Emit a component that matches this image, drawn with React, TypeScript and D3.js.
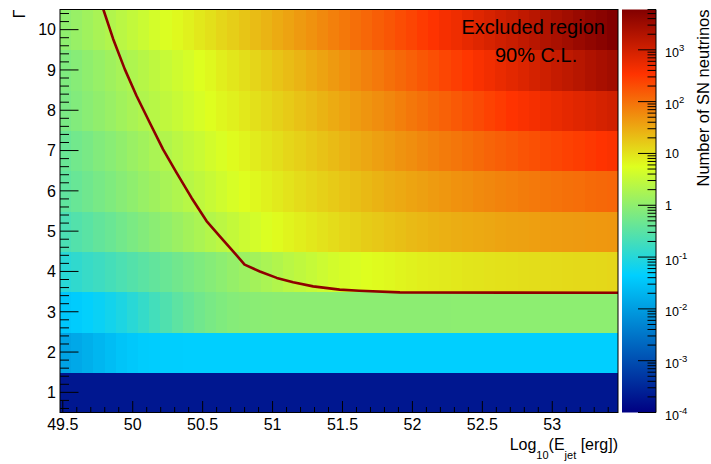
import React from 'react';
import * as d3 from 'd3';

const W = 711;
const H = 464;

// ---- axis ticks ----
const xTickLabels = [49.5, 50, 50.5, 51, 51.5, 52, 52.5, 53];
const yTickLabels = [1, 2, 3, 4, 5, 6, 7, 8, 9, 10];
const zTickExps = [-4, -3, -2, -1, 0, 1, 2, 3];

// ---- histogram binning ----
const gammaRows = [1, 2, 3, 4, 5, 6, 7, 8, 9, 10];
const eMin = 49.48;
const eMax = 53.47;
const nBins = 50;
const zMin = 1e-4;
const zMax = 6000;

// ---- log10(number of SN neutrinos) per Gamma row, 50 energy bins ----
const logN_G1 = [
  -3.7, -3.7, -3.7, -3.7, -3.7, -3.7, -3.7, -3.7, -3.7, -3.7,
  -3.7, -3.7, -3.7, -3.7, -3.7, -3.7, -3.7, -3.7, -3.7, -3.7,
  -3.7, -3.7, -3.7, -3.7, -3.7, -3.7, -3.7, -3.7, -3.7, -3.7,
  -3.7, -3.7, -3.7, -3.7, -3.7, -3.7, -3.7, -3.7, -3.7, -3.7,
  -3.7, -3.7, -3.7, -3.7, -3.7, -3.7, -3.7, -3.7, -3.7, -3.7,
];
const logN_G2 = [
  -1.92, -1.85, -1.77, -1.68, -1.58, -1.5, -1.44, -1.4, -1.38, -1.37,
  -1.37, -1.36, -1.36, -1.36, -1.36, -1.36, -1.36, -1.36, -1.36, -1.36,
  -1.36, -1.36, -1.36, -1.36, -1.36, -1.36, -1.36, -1.36, -1.36, -1.36,
  -1.36, -1.36, -1.36, -1.36, -1.36, -1.36, -1.36, -1.36, -1.36, -1.36,
  -1.36, -1.36, -1.36, -1.36, -1.36, -1.36, -1.36, -1.36, -1.36, -1.36,
];
const logN_G3 = [
  -1.45, -1.4, -1.33, -1.26, -1.18, -1.08, -0.97, -0.85, -0.72, -0.6,
  -0.48, -0.38, -0.29, -0.21, -0.15, -0.1, -0.07, -0.05, -0.04, -0.03,
  -0.03, -0.03, -0.03, -0.03, -0.03, -0.03, -0.03, -0.03, -0.03, -0.03,
  -0.03, -0.03, -0.03, -0.03, -0.03, -0.02, -0.02, -0.02, -0.02, -0.02,
  -0.02, -0.02, -0.02, -0.02, -0.02, -0.02, -0.02, -0.02, -0.02, -0.02,
];
const logN_G4 = [
  -0.97, -0.9, -0.83, -0.77, -0.7, -0.63, -0.56, -0.49, -0.43, -0.36,
  -0.29, -0.22, -0.15, -0.09, -0.02, 0.05, 0.12, 0.19, 0.25, 0.32,
  0.39, 0.45, 0.51, 0.57, 0.63, 0.67, 0.71, 0.75, 0.78, 0.81,
  0.84, 0.87, 0.89, 0.91, 0.93, 0.95, 0.97, 0.98, 1.0, 1.01,
  1.02, 1.03, 1.04, 1.05, 1.06, 1.07, 1.08, 1.08, 1.09, 1.1,
];
const logN_G5 = [
  -0.65, -0.57, -0.5, -0.42, -0.35, -0.27, -0.19, -0.12, -0.04, 0.03,
  0.11, 0.19, 0.26, 0.34, 0.41, 0.49, 0.57, 0.64, 0.72, 0.78,
  0.84, 0.89, 0.95, 1.0, 1.05, 1.1, 1.14, 1.19, 1.23, 1.27,
  1.31, 1.35, 1.38, 1.41, 1.44, 1.46, 1.48, 1.5, 1.52, 1.54,
  1.56, 1.57, 1.59, 1.6, 1.61, 1.62, 1.63, 1.64, 1.65, 1.66,
];
const logN_G6 = [
  -0.45, -0.37, -0.3, -0.22, -0.15, -0.07, 0.0, 0.08, 0.15, 0.23,
  0.3, 0.38, 0.45, 0.53, 0.6, 0.68, 0.75, 0.81, 0.87, 0.93,
  0.99, 1.05, 1.1, 1.16, 1.21, 1.26, 1.31, 1.36, 1.41, 1.46,
  1.5, 1.54, 1.58, 1.62, 1.66, 1.7, 1.73, 1.77, 1.8, 1.83,
  1.86, 1.89, 1.92, 1.95, 1.97, 2.0, 2.02, 2.05, 2.07, 2.09,
];
const logN_G7 = [
  -0.36, -0.28, -0.21, -0.13, -0.06, 0.02, 0.1, 0.17, 0.25, 0.32,
  0.4, 0.48, 0.55, 0.63, 0.7, 0.78, 0.84, 0.91, 0.97, 1.03,
  1.1, 1.16, 1.22, 1.28, 1.34, 1.4, 1.46, 1.52, 1.58, 1.63,
  1.69, 1.74, 1.8, 1.85, 1.9, 1.95, 2.0, 2.05, 2.1, 2.15,
  2.19, 2.24, 2.28, 2.33, 2.37, 2.41, 2.45, 2.49, 2.53, 2.57,
];
const logN_G8 = [
  -0.2, -0.13, -0.05, 0.02, 0.09, 0.17, 0.24, 0.31, 0.38, 0.46,
  0.53, 0.6, 0.68, 0.75, 0.82, 0.88, 0.95, 1.02, 1.08, 1.15,
  1.21, 1.28, 1.34, 1.41, 1.48, 1.54, 1.61, 1.67, 1.74, 1.8,
  1.87, 1.94, 2.0, 2.07, 2.13, 2.2, 2.27, 2.33, 2.4, 2.46,
  2.53, 2.58, 2.63, 2.69, 2.74, 2.79, 2.84, 2.89, 2.95, 3.0,
];
const logN_G9 = [
  -0.15, -0.08, 0.0, 0.07, 0.15, 0.22, 0.29, 0.37, 0.44, 0.52,
  0.59, 0.66, 0.74, 0.81, 0.89, 0.96, 1.03, 1.11, 1.18, 1.26,
  1.33, 1.4, 1.48, 1.55, 1.63, 1.7, 1.77, 1.85, 1.92, 2.0,
  2.07, 2.14, 2.22, 2.29, 2.37, 2.44, 2.51, 2.59, 2.66, 2.74,
  2.81, 2.88, 2.96, 3.03, 3.11, 3.18, 3.25, 3.33, 3.4, 3.47,
];
const logN_G10 = [
  0.0, 0.08, 0.16, 0.24, 0.32, 0.4, 0.48, 0.56, 0.64, 0.72,
  0.8, 0.87, 0.95, 1.02, 1.1, 1.17, 1.25, 1.33, 1.4, 1.48,
  1.55, 1.63, 1.7, 1.78, 1.86, 1.93, 2.01, 2.08, 2.16, 2.23,
  2.31, 2.38, 2.46, 2.54, 2.62, 2.69, 2.77, 2.85, 2.93, 3.01,
  3.08, 3.16, 3.24, 3.32, 3.39, 3.47, 3.55, 3.63, 3.7, 3.78,
];
const rowsLogN = [logN_G1, logN_G2, logN_G3, logN_G4, logN_G5, logN_G6, logN_G7, logN_G8, logN_G9, logN_G10];

// ---- 90% C.L. exclusion contour ----
const contourE = [49.79, 49.86, 49.943, 50.027, 50.122, 50.217, 50.313, 50.42, 50.528, 50.623, 50.718, 50.8, 50.909, 51.03, 51.147, 51.29, 51.48, 51.62, 51.91, 53.47];
const contourG = [10.5, 9.77, 9.02, 8.36, 7.69, 7.03, 6.45, 5.83, 5.25, 4.87, 4.5, 4.17, 4.0, 3.84, 3.73, 3.63, 3.55, 3.52, 3.48, 3.47];

// ---- palette (ROOT kRainBow) ----
const paletteStops = [0, 0.34, 0.61, 0.84, 1];
const paletteColors = ['#000082', '#00cfff', '#deff1f', '#ff3300', '#820000'];

const FONT = "'Liberation Sans', Arial, Helvetica, sans-serif";

export default function App() {
  const left = 60, right = 618, top = 9.5, bottom = 412.5;
  const cbLeft = 622, cbRight = 656;

  const x = d3.scaleLinear().domain([eMin, eMax]).range([left, right]);
  const y = d3.scaleLinear().domain([0.5, 10.5]).range([bottom, top]);
  const z = d3.scaleLog().domain([zMin, zMax]).range([bottom, top]);
  const tOf = d3.scaleLinear().domain([Math.log10(zMin), Math.log10(zMax)]).range([0, 1]).clamp(true);
  const pal = d3.scaleLinear<string>().domain(paletteStops).range(paletteColors).interpolate(d3.interpolateRgb);

  const binW = (eMax - eMin) / nBins;
  const cells: JSX.Element[] = [];
  rowsLogN.forEach((row, ri) => {
    const g = gammaRows[ri];
    row.forEach((lv, ci) => {
      const e0 = eMin + ci * binW;
      const x0 = x(e0);
      const x1 = x(e0 + binW);
      cells.push(
        <rect key={`c${ri}-${ci}`} x={x0} y={y(g + 0.5)} width={x1 - x0 + 0.6} height={y(g - 0.5) - y(g + 0.5) + 0.6}
          fill={pal(tOf(lv))} shapeRendering="crispEdges" />
      );
    });
  });

  const line = d3.line<number>().x((_, i) => x(contourE[i])).y((_, i) => y(contourG[i]));
  const contourPath = line(contourE.map((_, i) => i)) || '';

  const xMinor = d3.range(49.5, 53.45, 0.1);
  const yMinor = d3.range(0.6, 10.45, 0.2);

  const zMinor: number[] = [];
  zTickExps.forEach((e) => {
    for (let k = 2; k <= 9; k++) {
      const v = k * Math.pow(10, e);
      if (v <= zMax) zMinor.push(v);
    }
  });

  return (
    <svg width={W} height={H} style={{ position: 'absolute', left: 0, top: 0, background: '#fff' }} fontFamily={FONT}>
      <defs>
        <linearGradient id="cbGrad" x1="0" y1="1" x2="0" y2="0">
          {paletteStops.map((s, i) => (
            <stop key={i} offset={s} stopColor={paletteColors[i]} />
          ))}
        </linearGradient>
        <clipPath id="frameClip">
          <rect x={left} y={top} width={right - left} height={bottom - top} />
        </clipPath>
      </defs>
      <rect x={0} y={0} width={W} height={H} fill="#fff" />

      <g clipPath="url(#frameClip)">{cells}</g>

      <g clipPath="url(#frameClip)">
        <path d={contourPath} fill="none" stroke="#8e0000" strokeWidth={2.6} strokeLinejoin="round" />
      </g>

      <rect x={left} y={top} width={right - left} height={bottom - top} fill="none" stroke="#000" strokeWidth={1} />

      {xMinor.map((v, i) => {
        const major = xTickLabels.some((t) => Math.abs(t - v) < 1e-6);
        return <line key={`xm${i}`} x1={x(v)} x2={x(v)} y1={bottom} y2={bottom - (major ? 11.5 : 5.5)} stroke="#000" strokeWidth={1} />;
      })}
      {xTickLabels.map((v) => (
        <text key={`xl${v}`} x={x(v)} y={429.5} fontSize={16} textAnchor="middle" fill="#000">{String(v)}</text>
      ))}

      {yMinor.map((v, i) => {
        const major = Math.abs(v - Math.round(v)) < 1e-6;
        return <line key={`ym${i}`} x1={left} x2={left + (major ? 18.5 : 9)} y1={y(v)} y2={y(v)} stroke="#000" strokeWidth={1} />;
      })}
      {yTickLabels.map((v) => (
        <text key={`yl${v}`} x={56} y={y(v) + 5.8} fontSize={16} textAnchor="end" fill="#000">{String(v)}</text>
      ))}

      <text x={618} y={450} fontSize={16} textAnchor="end" fill="#000" style={{ whiteSpace: 'pre' }}>
        <tspan>Log</tspan>
        <tspan fontSize={11} dy={8.5}>10</tspan>
        <tspan dy={-8.5}>(E</tspan>
        <tspan fontSize={11} dy={8.5}>jet</tspan>
        <tspan dy={-8.5}>{' [erg])'}</tspan>
      </text>
      <text transform={`translate(24.5, 9.5) rotate(-90)`} fontSize={16} textAnchor="end" fill="#000">Γ</text>

      <text x={461.5} y={34} fontSize={20} fill="#000">Excluded region</text>
      <text x={495} y={62.3} fontSize={20} fill="#000">90% C.L.</text>

      <rect x={cbLeft} y={top} width={cbRight - cbLeft} height={bottom - top} fill="url(#cbGrad)" />
      <line x1={cbRight} x2={cbRight} y1={top} y2={bottom} stroke="#000" strokeWidth={1} />
      {zMinor.map((v, i) => (
        <line key={`zm${i}`} x1={cbRight} x2={cbRight - 8.5} y1={z(v)} y2={z(v)} stroke="#000" strokeWidth={1} />
      ))}
      {zTickExps.map((e) => {
        const v = Math.pow(10, e);
        const yy = z(v);
        return (
          <g key={`zt${e}`}>
            <line x1={cbRight} x2={cbRight - 18} y1={yy} y2={yy} stroke="#000" strokeWidth={1} />
            {e === 0 || e === 1 ? (
              <text x={665} y={yy + 5} fontSize={12.5} fill="#000">{e === 0 ? '1' : '10'}</text>
            ) : (
              <text x={665} y={yy + 7.5} fontSize={12.5} fill="#000">
                <tspan>10</tspan>
                <tspan fontSize={9.5} dy={-6}>{String(e)}</tspan>
              </text>
            )}
          </g>
        );
      })}
      <text transform={`translate(708.5, 9.5) rotate(-90)`} fontSize={16.5} textAnchor="end" fill="#000">Number of SN neutrinos</text>
    </svg>
  );
}
